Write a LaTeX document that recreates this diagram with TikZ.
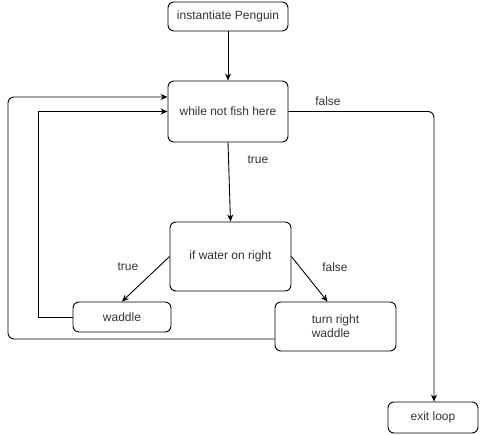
\documentclass[tikz,border=0pt]{standalone}
\usepackage{fontspec}
\setmainfont{Liberation Sans}
\usepackage{tikz}
\usetikzlibrary{arrows.meta}
\definecolor{PGText}{HTML}{333333}
\definecolor{PGLine}{HTML}{000000}

\tikzset{
  stepbox/.style={draw=PGLine,rounded corners=6pt,line width=0.9pt,text=PGText,inner sep=0pt,align=center,font=\fontsize{12}{14}\selectfont},
  flow/.style={draw=PGLine,line width=0.9pt,-{Stealth[length=7pt,width=6pt]}},
  lbl/.style={text=PGText,font=\fontsize{12}{14}\selectfont}
}

\begin{document}
\begin{tikzpicture}[x=1pt,y=-1pt]
\path[use as bounding box] (0,0) rectangle (480,435);
\node[stepbox,minimum width=120pt,minimum height=29pt] (init) at (228,16.5) {instantiate Penguin};
\node[stepbox,minimum width=120pt,minimum height=61pt] (loop) at (228,111.5) {while not fish here};
\node[stepbox,minimum width=121pt,minimum height=69pt] (cond) at (230.5,256.5) {if water on right};
\node[stepbox,minimum width=98pt,minimum height=30pt] (wad) at (122,317) {waddle};
\node[stepbox,minimum width=121pt,minimum height=49pt,align=left] (turn) at (335.5,326.5) {turn right\\waddle};
\node[stepbox,minimum width=90pt,minimum height=31pt] (exit) at (433,417.5) {exit loop};
% main line
\draw[flow] (init) -- (loop);
\draw[flow] (loop.south) -- (cond.north);
\node[lbl] (ltrue) at (258,160) {true};
\draw[flow,rounded corners=6pt] (loop.east) -- (434,111.5) -- (exit.north -| 434,0);
\node[lbl] (lfalse) at (328,101) {false};
% branches
\draw[flow] (cond.west) -- (wad.north);
\node[lbl] (btrue) at (128,267) {true};
\draw[flow] (cond.east) -- ([xshift=-8pt]turn.north);
\node[lbl] (bfalse) at (335,267) {false};
% back to the loop
\draw[flow] (wad.west) -- (38,317) -- (38,111.5) -- (loop.west);
\draw[flow,rounded corners=6pt] ([yshift=-12.5pt]turn.west) -- (8,339) -- (8,97) -- ([yshift=14.5pt]loop.west);
\end{tikzpicture}
\end{document}
